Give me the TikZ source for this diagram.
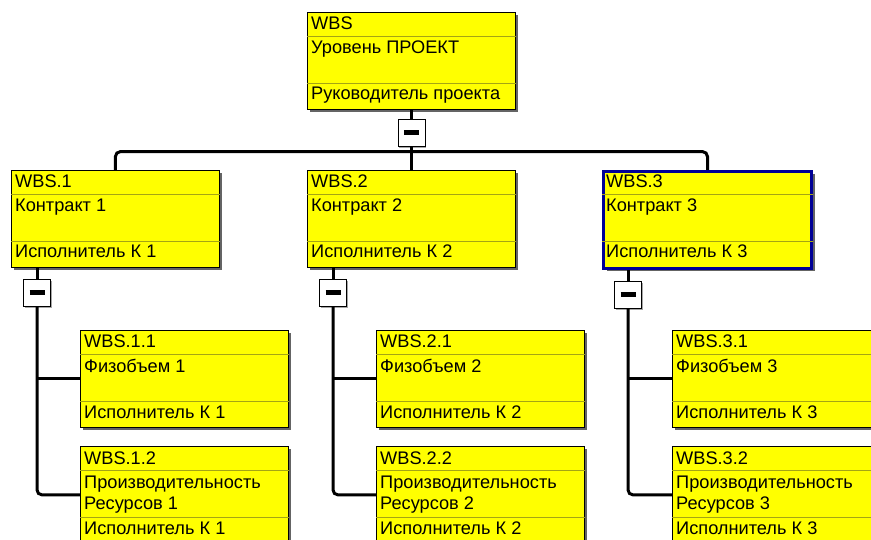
\documentclass[tikz,border=0pt]{standalone}
\usepackage{fontspec}
\setmainfont{Liberation Sans}
\usetikzlibrary{positioning, shadows}

\definecolor{wbsyellow}{RGB}{255,255,0}
\definecolor{wbsrule}{RGB}{165,165,20}
\definecolor{wbsblue}{RGB}{0,0,150}
\definecolor{wbsshadow}{RGB}{100,100,100}

\newcommand{\wbsbox}[6][]{%
	\node [wbs, #1] (#2) at (#3) {};
	\draw [divider] ([yshift=-24]#2.north west) -- ([yshift=-24]#2.north east);
	\draw [divider] ([yshift=-71]#2.north west) -- ([yshift=-71]#2.north east);
	\node [lbl] (#2-code) at ([xshift=4, yshift=-18]#2.north west) {#4};
	\node [lbl] (#2-desc) at ([xshift=4, yshift=-42]#2.north west) {\begin{tabular}[t]{@{}l@{}}#5\end{tabular}};
	\node [lbl] (#2-owner) at ([xshift=4, yshift=-88]#2.north west) {#6};
}

\begin{document}
\begin{tikzpicture}[x = 1pt, y = 1pt,
	wbs/.style = {draw = black, fill = wbsyellow, line width = 0.8, inner sep = 0, anchor = north west,
		minimum width = 208, minimum height = 97,
		drop shadow = {shadow xshift = 3pt, shadow yshift = -3pt, fill = wbsshadow, opacity = 1}},
	current/.style = {draw = wbsblue, line width = 3},
	divider/.style = {wbsrule, line width = 0.8},
	lbl/.style = {anchor = base west, inner sep = 0, font = \fontsize{18.2}{21.5}\selectfont},
	btn/.style = {draw = black, fill = white, line width = 0.8, inner sep = 0, minimum size = 27,
		drop shadow = {shadow xshift = 1.5pt, shadow yshift = -1.5pt, fill = gray!70, opacity = 1}},
	conn/.style = {black, line width = 3}]
	\clip (0,0) rectangle (871,-540);
	\fill [white] (0,0) rectangle (871,-540);

	\wbsbox{top}{307,-12}{WBS}{Уровень ПРОЕКТ}{Руководитель проекта}
	\wbsbox{w1}{11,-170}{WBS.1}{Контракт 1}{Исполнитель К 1}
	\wbsbox{w2}{307,-170}{WBS.2}{Контракт 2}{Исполнитель К 2}
	\wbsbox[current]{w3}{602,-170}{WBS.3}{Контракт 3}{Исполнитель К 3}

	\wbsbox{w11}{80,-330}{WBS.1.1}{Физобъем 1}{Исполнитель К 1}
	\wbsbox{w12}{80,-446}{WBS.1.2}{Производительность\\Ресурсов 1}{Исполнитель К 1}
	\wbsbox{w21}{376,-330}{WBS.2.1}{Физобъем 2}{Исполнитель К 2}
	\wbsbox{w22}{376,-446}{WBS.2.2}{Производительность\\Ресурсов 2}{Исполнитель К 2}
	\wbsbox{w31}{672,-330}{WBS.3.1}{Физобъем 3}{Исполнитель К 3}
	\wbsbox{w32}{672,-446}{WBS.3.2}{Производительность\\Ресурсов 3}{Исполнитель К 3}

	\node [btn, below = 9 of top.south] (b0) {\rule[-2.5pt]{15pt}{5pt}};
	\node [btn, below = 11 of w1.south west, xshift = 26] (b1) {\rule[-2.5pt]{15pt}{5pt}};
	\node [btn, below = 11 of w2.south west, xshift = 26] (b2) {\rule[-2.5pt]{15pt}{5pt}};
	\node [btn, below = 11 of w3.south west, xshift = 26] (b3) {\rule[-2.5pt]{15pt}{5pt}};
	\coordinate [below = 5 of b0.south] (bus);

	\draw [conn] (top.south) -- (b0.north);
	\draw [conn] (b0.south) -- (w2.north);
	\draw [conn, rounded corners = 5] (w1.north) -- (w1.north |- bus) -- (w3.north |- bus) -- (w3.north);
	\foreach \i in {1,2,3} {
		\draw [conn] (b\i.north |- w\i.south) -- (b\i.north);
		\draw [conn, rounded corners = 5] (b\i.south) |- (w\i2.west);
		\draw [conn] (b\i.south |- w\i1.west) -- (w\i1.west);
	}
\end{tikzpicture}
\end{document}
